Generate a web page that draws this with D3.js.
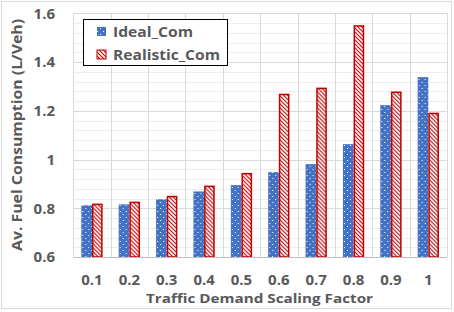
<!DOCTYPE html>
<html><head><meta charset="utf-8">
<script src="https://cdn.jsdelivr.net/npm/d3@7"></script>
<style>body{margin:0;background:#fff}svg{display:block}</style>
</head><body><div id="c"></div>
<script>
const categories = ["0.1","0.2","0.3","0.4","0.5","0.6","0.7","0.8","0.9","1"];
const seriesNames = ["Ideal_Com","Realistic_Com"];
const idealCom = [0.812,0.816,0.837,0.869,0.895,0.948,0.981,1.063,1.223,1.338];
const realisticCom = [0.816,0.824,0.848,0.890,0.942,1.267,1.292,1.548,1.276,1.189];
const yTicks = [0.6,0.8,1,1.2,1.4,1.6];
const yTickLabels = ["0.6","0.8","1","1.2","1.4","1.6"];

(function(){
const W=454,H=312;
const svg=d3.select("#c").append("svg").attr("width",W).attr("height",H);
const defs=svg.append("defs");
const pb=defs.append("pattern").attr("id","pBlue").attr("patternUnits","userSpaceOnUse").attr("width",6).attr("height",6);
pb.append("rect").attr("width",6).attr("height",6).attr("fill","#4472C4");
pb.append("rect").attr("x",1).attr("y",1).attr("width",1).attr("height",1).attr("fill","#fff");
pb.append("rect").attr("x",4).attr("y",4).attr("width",1).attr("height",1).attr("fill","#fff");
const pr=defs.append("pattern").attr("id","pRed").attr("patternUnits","userSpaceOnUse").attr("width",4).attr("height",4);
pr.append("rect").attr("width",4).attr("height",4).attr("fill","#fff");
pr.append("path").attr("d","M-1,-1 L5,5 M-1,3 L1,5 M3,-1 L5,1").attr("stroke","#C00000").attr("stroke-width",1.1);

svg.append("rect").attr("x",1.5).attr("y",1.5).attr("width",450).attr("height",307).attr("fill","#fff").attr("stroke","#d9d9d9");

const pl=73.3,pr2=447,pt=13.3,pbt=257;
const x=d3.scaleBand().domain(categories).range([pl,pr2]).paddingInner(0.43).paddingOuter(0.215);
const x1=d3.scaleBand().domain(seriesNames).range([0,x.bandwidth()]);
const y=d3.scaleLinear().domain([0.6,1.6]).range([pbt,pt]);

const minor=d3.range(0.64,1.6,0.04).filter(v=>Math.abs(v*5-Math.round(v*5))>0.01);
svg.append("g").selectAll("line").data(minor).join("line")
 .attr("x1",pl).attr("x2",pr2).attr("y1",d=>Math.round(y(d))+0.5).attr("y2",d=>Math.round(y(d))+0.5)
 .attr("stroke","#eeeeee");
svg.append("g").selectAll("line").data(yTicks.slice(1)).join("line")
 .attr("x1",pl).attr("x2",pr2).attr("y1",d=>Math.round(y(d))+0.5).attr("y2",d=>Math.round(y(d))+0.5)
 .attr("stroke","#d9d9d9").attr("stroke-width",1);
const bounds=categories.map((c,i)=>pl+i*x.step());
bounds.push(pr2);
svg.append("g").selectAll("line").data(bounds).join("line")
 .attr("x1",d=>Math.round(d)+0.5).attr("x2",d=>Math.round(d)+0.5).attr("y1",pt).attr("y2",pbt)
 .attr("stroke","#d9d9d9");

const data=categories.map((c,i)=>({c,vals:[{s:"Ideal_Com",v:idealCom[i]},{s:"Realistic_Com",v:realisticCom[i]}]}));
const g=svg.append("g").selectAll("g").data(data).join("g").attr("transform",d=>`translate(${x(d.c)},0)`);
g.selectAll("rect").data(d=>d.vals).join("rect")
 .attr("x",d=>x1(d.s)+(d.s==="Realistic_Com"?0.75:0))
 .attr("width",d=>x1.bandwidth()-(d.s==="Realistic_Com"?1.5:0))
 .attr("y",d=>y(d.v)).attr("height",d=>pbt-y(d.v))
 .attr("fill",d=>d.s==="Ideal_Com"?"url(#pBlue)":"url(#pRed)")
 .attr("stroke",d=>d.s==="Ideal_Com"?"none":"#C00000").attr("stroke-width",1.5);

svg.append("line").attr("x1",pl).attr("x2",pr2).attr("y1",pbt+0.5).attr("y2",pbt+0.5).attr("stroke","#bfbfbf").attr("stroke-width",1.2);

const font="'Open Sans', 'Noto Sans', sans-serif";
const col="#595959";
svg.append("g").selectAll("text").data(yTicks).join("text")
 .attr("x",55).attr("y",d=>y(d)).attr("dy","0.35em").attr("text-anchor","end")
 .attr("font-family",font).attr("font-weight","bold").attr("font-size",15).attr("fill",col)
 .text((d,i)=>yTickLabels[i]);
svg.append("g").selectAll("text").data(categories).join("text")
 .attr("x",d=>x(d)+x.bandwidth()/2).attr("y",285).attr("text-anchor","middle")
 .attr("font-family",font).attr("font-weight","bold").attr("font-size",15).attr("fill",col)
 .text(d=>d);
svg.append("text").attr("x",259.5).attr("y",303).attr("text-anchor","middle")
 .attr("font-family",font).attr("font-weight","bold").attr("font-size",13).attr("fill",col)
 .attr("textLength",227).attr("lengthAdjust","spacingAndGlyphs")
 .text("Traffic Demand Scaling Factor");
svg.append("text").attr("transform","translate(22,135) rotate(-90)").attr("text-anchor","middle")
 .attr("font-family",font).attr("font-weight","bold").attr("font-size",13.5).attr("fill",col)
 .attr("textLength",232).attr("lengthAdjust","spacingAndGlyphs")
 .text("Av. Fuel Consumption  (L/Veh)");

const lg=svg.append("g");
lg.append("rect").attr("x",83.5).attr("y",19.5).attr("width",144).attr("height",46).attr("fill","#fff").attr("stroke","#000").attr("stroke-width",1);
const items=lg.selectAll("g").data(seriesNames).join("g").attr("transform",(d,i)=>`translate(0,${i*23})`);
items.append("rect").attr("x",97).attr("y",27).attr("width",9).attr("height",9)
 .attr("fill",d=>d==="Ideal_Com"?"url(#pBlue)":"url(#pRed)")
 .attr("stroke",d=>d==="Ideal_Com"?"none":"#C00000").attr("stroke-width",1);
items.append("text").attr("x",113).attr("y",37).attr("font-family",font).attr("font-weight","bold")
 .attr("font-size",15).attr("fill",col)
 .attr("textLength",(d,i)=>i===0?80:107).attr("lengthAdjust","spacingAndGlyphs")
 .text(d=>d);
})();
</script></body></html>
